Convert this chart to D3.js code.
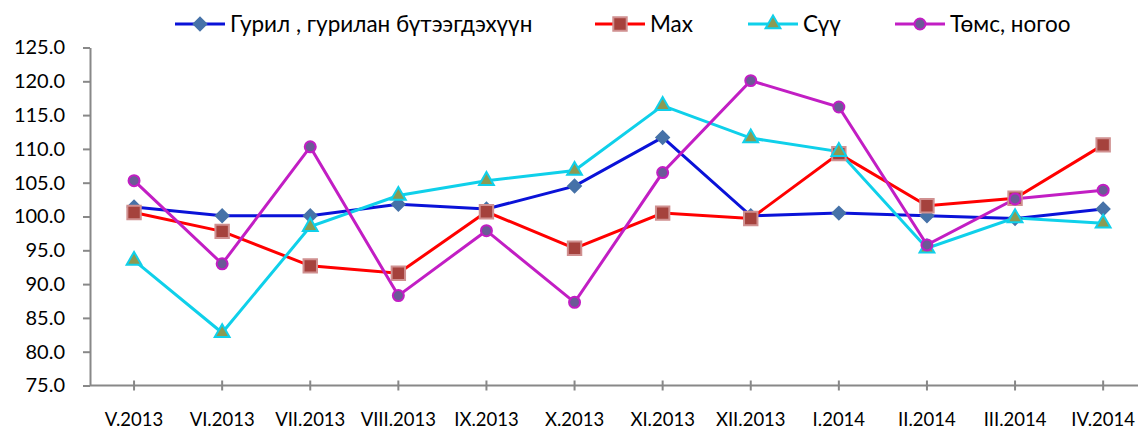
<!DOCTYPE html>
<html>
<head>
<meta charset="utf-8">
<script src="https://cdn.jsdelivr.net/npm/d3@7"></script>
<style>
  body { margin: 0; background: #fff; }
  svg { display: block; font-family: Lato, "Open Sans", sans-serif; }
  .axis path, .axis line { stroke: #888; stroke-width: 2; }
</style>
</head>
<body>
<svg id="chart" width="1138" height="429"></svg>
<script>
// ----- DATA -----
const months = ["V.2013", "VI.2013", "VII.2013", "VIII.2013", "IX.2013", "X.2013",
  "XI.2013", "XII.2013", "I.2014", "II.2014", "III.2014", "IV.2014"];

const guril = [101.4, 100.1, 100.1, 101.8, 101.1, 104.5, 111.7, 100.1, 100.5, 100.1, 99.7, 101.1];
const makh  = [100.6, 97.8, 92.7, 91.6, 100.7, 95.3, 100.5, 99.7, 109.3, 101.6, 102.7, 110.6];
const suu   = [93.5, 82.8, 98.5, 103.1, 105.3, 106.8, 116.4, 111.6, 109.6, 95.3, 99.8, 99.0];
const tums  = [105.3, 93.0, 110.3, 88.3, 97.9, 87.3, 106.5, 120.1, 116.2, 95.8, 102.6, 103.9];

const yTicks = [75, 80, 85, 90, 95, 100, 105, 110, 115, 120, 125];

// diamond = square turned 45 degrees
const series = [
  { name: "Гурил , гурилан бүтээгдэхүүн", values: guril, line: "#0a12d8", fill: "#4672a8", stroke: "#4672a8", shape: d3.symbolSquare, rot: 45, size: 80, lx: 175 },
  { name: "Мах", values: makh, line: "#ff0000", fill: "#a5423d", stroke: "#d09090", shape: d3.symbolSquare, rot: 0, size: 180, lx: 595 },
  { name: "Сүү", values: suu, line: "#0fd0ea", fill: "#8c9a52", stroke: "#0fd0ea", shape: d3.symbolTriangle, rot: 0, size: 95, lx: 748 },
  { name: "Төмс, ногоо", values: tums, line: "#c21ec4", fill: "#6b5a96", stroke: "#c21ec4", shape: d3.symbolCircle, rot: 0, size: 95, lx: 895 }
];

const svg = d3.select("#chart");
const mLeft = 90, mTop = 47.5, mBottom = 385.5;

// ----- SCALES -----
const xScale = d3.scaleBand().domain(months).range([mLeft, mLeft + 12 * 88.1]).padding(0);
const xc = d => xScale(d) + xScale.bandwidth() / 2;
const yScale = d3.scaleLinear().domain([75, 125]).range([mBottom, mTop]);

// ----- Y AXIS -----
const yAxis = svg.append("g").attr("class", "axis")
  .attr("transform", "translate(" + mLeft + ",0)")
  .call(d3.axisLeft(yScale).tickValues(yTicks).tickFormat(d3.format(".1f")).tickSize(7).tickSizeOuter(0));
yAxis.selectAll("text").attr("x", -25).attr("fill", "#000").style("font-size", "20px").style("font-family", "Lato, 'Open Sans', sans-serif");

// ----- X AXIS -----
const xAxis = svg.append("g").attr("class", "axis")
  .attr("transform", "translate(0," + mBottom + ")");
xAxis.append("line").attr("x1", mLeft).attr("x2", 1138).attr("y1", 0).attr("y2", 0);
xAxis.selectAll(".xt").data(months).enter().append("line")
  .attr("x1", d => xc(d)).attr("x2", d => xc(d)).attr("y1", -5).attr("y2", 5);
xAxis.selectAll("text").data(months).enter().append("text")
  .attr("x", d => xc(d)).attr("y", 40)
  .attr("text-anchor", "middle").attr("fill", "#000")
  .style("font-size", "18.5px")
  .text(d => d);

// ----- LINES -----
const line = d3.line().x((d, i) => xc(months[i])).y(d => yScale(d));

series.forEach(s => {
  svg.append("path").datum(s.values)
    .attr("fill", "none").attr("stroke", s.line).attr("stroke-width", 3)
    .attr("d", line);
});

series.forEach(s => {
  svg.selectAll(null).data(s.values).enter().append("path")
    .attr("transform", (d, i) => "translate(" + xc(months[i]) + "," + yScale(d) + ") rotate(" + s.rot + ")")
    .attr("d", d3.symbol().type(s.shape).size(s.size))
    .attr("fill", s.fill).attr("stroke", s.stroke).attr("stroke-width", 2);
});

// ----- LEGEND -----
const legend = svg.append("g");
series.forEach(s => {
  const g = legend.append("g").attr("transform", "translate(" + s.lx + ",24)");
  g.append("line").attr("x1", 0).attr("x2", 50).attr("stroke", s.line).attr("stroke-width", 3);
  g.append("path").attr("transform", "translate(25,0) rotate(" + s.rot + ")")
    .attr("d", d3.symbol().type(s.shape).size(s.size))
    .attr("fill", s.fill).attr("stroke", s.stroke).attr("stroke-width", 2);
  g.append("text").attr("x", 55).attr("y", 8).style("font-size", "22.5px").attr("fill", "#000").text(s.name);
});
</script>
</body>
</html>
